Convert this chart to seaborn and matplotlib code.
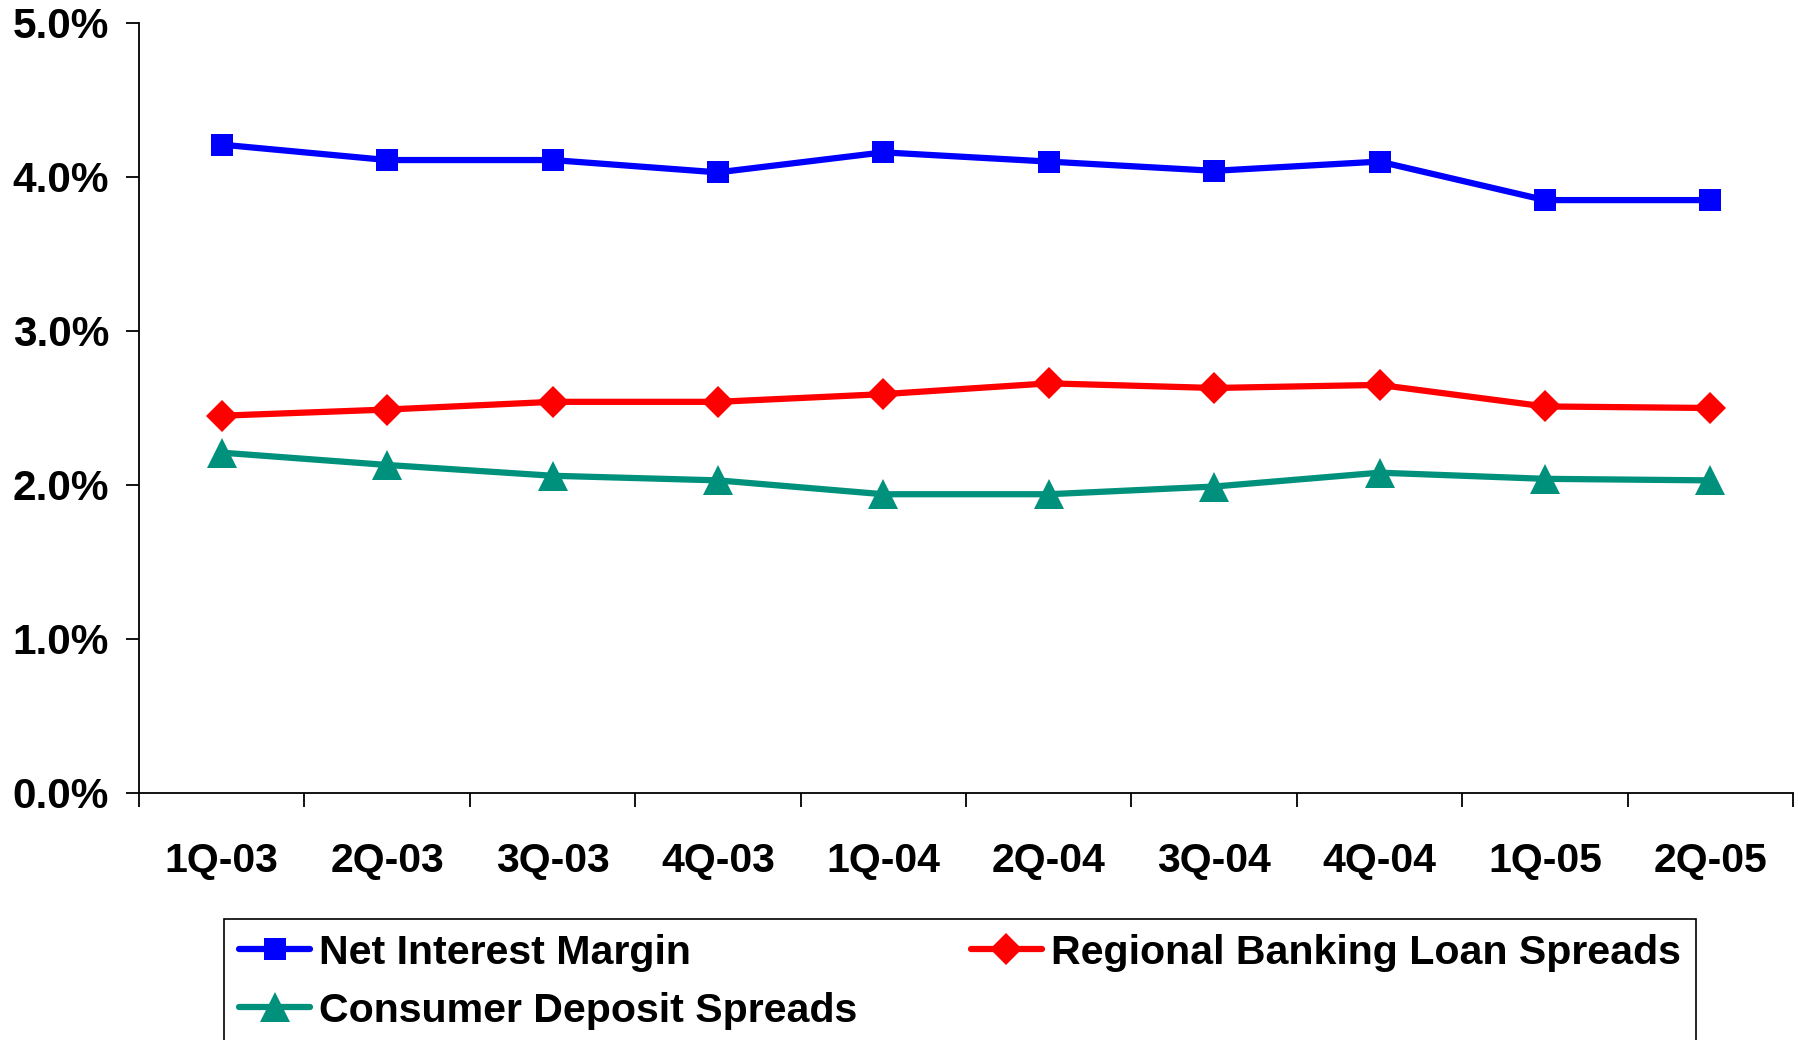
import numpy as np
import matplotlib
matplotlib.use("Agg")
import matplotlib.pyplot as plt
import seaborn as sns
from matplotlib.ticker import FuncFormatter

# Quarterly spreads, in percent
quarters = ["1Q-03", "2Q-03", "3Q-03", "4Q-03", "1Q-04",
            "2Q-04", "3Q-04", "4Q-04", "1Q-05", "2Q-05"]
net_interest_margin = [4.21, 4.11, 4.11, 4.03, 4.16, 4.10, 4.04, 4.10, 3.85, 3.85]
regional_loan_spreads = [2.45, 2.49, 2.54, 2.54, 2.59, 2.66, 2.63, 2.65, 2.51, 2.50]
consumer_deposit_spreads = [2.21, 2.13, 2.06, 2.03, 1.94, 1.94, 1.99, 2.08, 2.04, 2.03]
y_ticks = [0, 1, 2, 3, 4, 5]

sns.set_theme(style="white")
plt.rcParams["font.family"] = ["Liberation Sans", "DejaVu Sans"]
plt.rcParams["font.weight"] = "bold"
plt.rcParams["text.color"] = "black"

fig = plt.figure(figsize=(17.99, 10.40), dpi=100)
ax = fig.add_axes([0.0773, 0.2375, 0.9194, 0.7404])

pos = np.arange(len(quarters))
series = [
    ("Net Interest Margin", net_interest_margin, "#0000FF", "s", 16.5),
    ("Regional Banking Loan Spreads", regional_loan_spreads, "#FF0000", "D", 16),
    ("Consumer Deposit Spreads", consumer_deposit_spreads, "#00917C", "^", 21),
]
for name, vals, color, mk, ms in series:
    sns.lineplot(x=pos, y=vals, ax=ax, color=color, linewidth=4.5,
                 marker=mk, markersize=ms, markeredgewidth=0,
                 label=name, clip_on=False)

ax.set_xlim(-0.5, len(quarters) - 0.5)
ax.set_ylim(0, 5)

# Category boundaries carry the tick marks, centres carry the labels
ax.set_xticks(np.arange(-0.5, len(quarters), 1.0))
ax.set_xticklabels([])
ax.set_xticks(pos, minor=True)
ax.set_xticklabels(quarters, minor=True, fontsize=29.5, fontweight="bold")
ax.tick_params(axis="x", which="major", bottom=True, length=10, width=1.3,
               direction="out", color="black")
ax.tick_params(axis="x", which="minor", bottom=True, length=0, pad=35,
               labelcolor="black")

ax.set_yticks(y_ticks)
ax.yaxis.set_major_formatter(FuncFormatter(lambda v, _: f"{v:.1f}%"))
ax.tick_params(axis="y", left=True, length=9.5, width=1.3, direction="out",
               color="black", pad=12, labelsize=30.5, labelcolor="black")
for lbl in ax.get_yticklabels():
    lbl.set_fontweight("bold")

for side in ("top", "right"):
    ax.spines[side].set_visible(False)
for side in ("left", "bottom"):
    ax.spines[side].set_color("black")
    ax.spines[side].set_linewidth(1.3)
ax.grid(False)

handles, labels = ax.get_legend_handles_labels()
order = [0, 2, 1]
leg = ax.legend([handles[i] for i in order], [labels[i] for i in order],
                ncol=2, loc="upper left",
                bbox_to_anchor=(224 / 1799, 1 - 919 / 1040),
                bbox_transform=fig.transFigure, borderaxespad=0,
                prop={"weight": "bold", "size": 29.6},
                frameon=True, fancybox=False, edgecolor="black", framealpha=1,
                handlelength=1.74, handletextpad=0.22, borderpad=0.36,
                labelspacing=0.48, columnspacing=2.75)
leg.get_frame().set_linewidth(1.2)
for t in leg.get_texts():
    t.set_color("black")

fig.savefig("out.png", dpi=100)
